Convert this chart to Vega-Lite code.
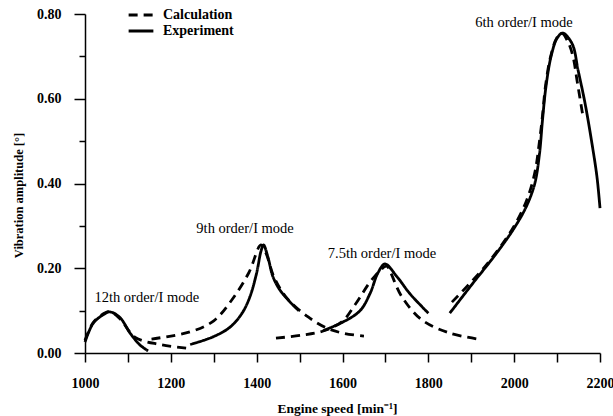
{
  "$schema": "https://vega.github.io/schema/vega-lite/v6.json",
  "autosize": {"type": "none"},
  "width": 515,
  "height": 339,
  "padding": {"left": 85, "top": 14, "right": 13, "bottom": 63},
  "background": "white",
  "config": {
    "view": {"stroke": null},
    "font": "Liberation Serif",
    "axis": {
      "grid": false,
      "domainColor": "black",
      "domainWidth": 1.5,
      "tickColor": "black",
      "tickWidth": 1.5,
      "labelColor": "black",
      "labelFont": "Liberation Serif",
      "labelFontSize": 14,
      "labelFontWeight": "bold",
      "titleFont": "Liberation Serif",
      "titleColor": "black",
      "titleFontWeight": "bold"
    },
    "legend": {
      "labelFont": "Liberation Serif",
      "labelFontSize": 14,
      "labelFontWeight": "bold",
      "labelColor": "black"
    }
  },
  "datasets": {
    "curves": [
      {"series": "Experiment", "seg": "E1", "speed": 1000, "amp": 0.026},
      {"series": "Experiment", "seg": "E1", "speed": 1019, "amp": 0.07},
      {"series": "Experiment", "seg": "E1", "speed": 1042, "amp": 0.09},
      {"series": "Experiment", "seg": "E1", "speed": 1058, "amp": 0.097},
      {"series": "Experiment", "seg": "E1", "speed": 1082, "amp": 0.083},
      {"series": "Experiment", "seg": "E1", "speed": 1105, "amp": 0.047},
      {"series": "Experiment", "seg": "E1", "speed": 1128, "amp": 0.019},
      {"series": "Experiment", "seg": "E1", "speed": 1147, "amp": 0.005},

      {"series": "Calculation", "seg": "C1", "speed": 1000, "amp": 0.03},
      {"series": "Calculation", "seg": "C1", "speed": 1019, "amp": 0.072},
      {"series": "Calculation", "seg": "C1", "speed": 1042, "amp": 0.092},
      {"series": "Calculation", "seg": "C1", "speed": 1058, "amp": 0.098},
      {"series": "Calculation", "seg": "C1", "speed": 1082, "amp": 0.08},
      {"series": "Calculation", "seg": "C1", "speed": 1117, "amp": 0.037},
      {"series": "Calculation", "seg": "C1", "speed": 1175, "amp": 0.02},
      {"series": "Calculation", "seg": "C1", "speed": 1248, "amp": 0.01},

      {"series": "Experiment", "seg": "E2", "speed": 1245, "amp": 0.02},
      {"series": "Experiment", "seg": "E2", "speed": 1298, "amp": 0.038},
      {"series": "Experiment", "seg": "E2", "speed": 1338, "amp": 0.061},
      {"series": "Experiment", "seg": "E2", "speed": 1366, "amp": 0.094},
      {"series": "Experiment", "seg": "E2", "speed": 1384, "amp": 0.132},
      {"series": "Experiment", "seg": "E2", "speed": 1400, "amp": 0.189},
      {"series": "Experiment", "seg": "E2", "speed": 1410, "amp": 0.24},
      {"series": "Experiment", "seg": "E2", "speed": 1416, "amp": 0.255},
      {"series": "Experiment", "seg": "E2", "speed": 1426, "amp": 0.227},
      {"series": "Experiment", "seg": "E2", "speed": 1438, "amp": 0.18},
      {"series": "Experiment", "seg": "E2", "speed": 1454, "amp": 0.149},
      {"series": "Experiment", "seg": "E2", "speed": 1478, "amp": 0.12},
      {"series": "Experiment", "seg": "E2", "speed": 1498, "amp": 0.1},

      {"series": "Calculation", "seg": "C2", "speed": 1155, "amp": 0.033},
      {"series": "Calculation", "seg": "C2", "speed": 1245, "amp": 0.05},
      {"series": "Calculation", "seg": "C2", "speed": 1300, "amp": 0.076},
      {"series": "Calculation", "seg": "C2", "speed": 1342, "amp": 0.125},
      {"series": "Calculation", "seg": "C2", "speed": 1382, "amp": 0.19},
      {"series": "Calculation", "seg": "C2", "speed": 1410, "amp": 0.255},
      {"series": "Calculation", "seg": "C2", "speed": 1422, "amp": 0.235},
      {"series": "Calculation", "seg": "C2", "speed": 1440, "amp": 0.18},
      {"series": "Calculation", "seg": "C2", "speed": 1470, "amp": 0.13},
      {"series": "Calculation", "seg": "C2", "speed": 1520, "amp": 0.085},
      {"series": "Calculation", "seg": "C2", "speed": 1565, "amp": 0.058},
      {"series": "Calculation", "seg": "C2", "speed": 1605, "amp": 0.046},
      {"series": "Calculation", "seg": "C2", "speed": 1650, "amp": 0.04},

      {"series": "Experiment", "seg": "E3", "speed": 1555, "amp": 0.053},
      {"series": "Experiment", "seg": "E3", "speed": 1601, "amp": 0.073},
      {"series": "Experiment", "seg": "E3", "speed": 1641, "amp": 0.1},
      {"series": "Experiment", "seg": "E3", "speed": 1664, "amp": 0.14},
      {"series": "Experiment", "seg": "E3", "speed": 1683, "amp": 0.19},
      {"series": "Experiment", "seg": "E3", "speed": 1699, "amp": 0.21},
      {"series": "Experiment", "seg": "E3", "speed": 1727, "amp": 0.18},
      {"series": "Experiment", "seg": "E3", "speed": 1757, "amp": 0.14},
      {"series": "Experiment", "seg": "E3", "speed": 1800, "amp": 0.094},

      {"series": "Calculation", "seg": "C3", "speed": 1445, "amp": 0.035},
      {"series": "Calculation", "seg": "C3", "speed": 1505, "amp": 0.042},
      {"series": "Calculation", "seg": "C3", "speed": 1555, "amp": 0.052},
      {"series": "Calculation", "seg": "C3", "speed": 1600, "amp": 0.075},
      {"series": "Calculation", "seg": "C3", "speed": 1630, "amp": 0.115},
      {"series": "Calculation", "seg": "C3", "speed": 1670, "amp": 0.175},
      {"series": "Calculation", "seg": "C3", "speed": 1703, "amp": 0.205},
      {"series": "Calculation", "seg": "C3", "speed": 1712, "amp": 0.19},
      {"series": "Calculation", "seg": "C3", "speed": 1737, "amp": 0.135},
      {"series": "Calculation", "seg": "C3", "speed": 1785, "amp": 0.078},
      {"series": "Calculation", "seg": "C3", "speed": 1850, "amp": 0.047},
      {"series": "Calculation", "seg": "C3", "speed": 1915, "amp": 0.033},

      {"series": "Experiment", "seg": "E4", "speed": 1850, "amp": 0.094},
      {"series": "Experiment", "seg": "E4", "speed": 1904, "amp": 0.165},
      {"series": "Experiment", "seg": "E4", "speed": 1951, "amp": 0.225},
      {"series": "Experiment", "seg": "E4", "speed": 1997, "amp": 0.29},
      {"series": "Experiment", "seg": "E4", "speed": 2028, "amp": 0.345},
      {"series": "Experiment", "seg": "E4", "speed": 2048, "amp": 0.4},
      {"series": "Experiment", "seg": "E4", "speed": 2059, "amp": 0.47},
      {"series": "Experiment", "seg": "E4", "speed": 2066, "amp": 0.55},
      {"series": "Experiment", "seg": "E4", "speed": 2074, "amp": 0.628},
      {"series": "Experiment", "seg": "E4", "speed": 2086, "amp": 0.7},
      {"series": "Experiment", "seg": "E4", "speed": 2100, "amp": 0.743},
      {"series": "Experiment", "seg": "E4", "speed": 2113, "amp": 0.755},
      {"series": "Experiment", "seg": "E4", "speed": 2135, "amp": 0.73},
      {"series": "Experiment", "seg": "E4", "speed": 2149, "amp": 0.667},
      {"series": "Experiment", "seg": "E4", "speed": 2165, "amp": 0.59},
      {"series": "Experiment", "seg": "E4", "speed": 2181, "amp": 0.496},
      {"series": "Experiment", "seg": "E4", "speed": 2193, "amp": 0.415},
      {"series": "Experiment", "seg": "E4", "speed": 2200, "amp": 0.342},

      {"series": "Calculation", "seg": "C4", "speed": 1855, "amp": 0.12},
      {"series": "Calculation", "seg": "C4", "speed": 1920, "amp": 0.19},
      {"series": "Calculation", "seg": "C4", "speed": 1960, "amp": 0.24},
      {"series": "Calculation", "seg": "C4", "speed": 2000, "amp": 0.3},
      {"series": "Calculation", "seg": "C4", "speed": 2029, "amp": 0.36},
      {"series": "Calculation", "seg": "C4", "speed": 2048, "amp": 0.425},
      {"series": "Calculation", "seg": "C4", "speed": 2059, "amp": 0.5},
      {"series": "Calculation", "seg": "C4", "speed": 2066, "amp": 0.56},
      {"series": "Calculation", "seg": "C4", "speed": 2073, "amp": 0.63},
      {"series": "Calculation", "seg": "C4", "speed": 2085, "amp": 0.7},
      {"series": "Calculation", "seg": "C4", "speed": 2099, "amp": 0.743},
      {"series": "Calculation", "seg": "C4", "speed": 2111, "amp": 0.755},
      {"series": "Calculation", "seg": "C4", "speed": 2125, "amp": 0.735},
      {"series": "Calculation", "seg": "C4", "speed": 2137, "amp": 0.7},
      {"series": "Calculation", "seg": "C4", "speed": 2147, "amp": 0.64},
      {"series": "Calculation", "seg": "C4", "speed": 2160, "amp": 0.56}
    ],
    "labels": [
      {"speed": 1144, "amp": 0.13, "text": "12th order/I mode"},
      {"speed": 1373, "amp": 0.293, "text": "9th order/I mode"},
      {"speed": 1692, "amp": 0.234, "text": "7.5th order/I mode"},
      {"speed": 2023, "amp": 0.779, "text": "6th order/I mode"}
    ]
  },
  "layer": [
    {
      "data": {"name": "curves"},
      "mark": {"type": "line", "color": "black", "strokeWidth": 2.8, "interpolate": "catmull-rom"},
      "encoding": {
        "x": {
          "field": "speed", "type": "quantitative",
          "scale": {"domain": [1000, 2200], "nice": false, "zero": false},
          "axis": {
            "title": "Engine speed [min⁻¹]",
            "titleFont": "Liberation Serif",
            "titleFontSize": 13.5,
            "titleFontWeight": "bold",
            "titleX": 252,
            "titleY": 55,
            "titleAlign": "center",
            "titleBaseline": "middle",
            "values": [1000, 1100, 1200, 1300, 1400, 1500, 1600, 1700, 1800, 1900, 2000, 2100, 2200],
            "labelExpr": "datum.value % 200 == 0 ? format(datum.value, 'd') : ''",
            "tickSize": 9,
            "labelPadding": 14,
            "labelFlush": false,
            "encode": {"labels": {"update": {"font": {"value": "Liberation Serif"}, "fontWeight": {"value": "bold"}}}}
          }
        },
        "y": {
          "field": "amp", "type": "quantitative",
          "scale": {"domain": [0, 0.8], "nice": false},
          "axis": {
            "title": "Vibration amplitude [°]",
            "titleFont": "Liberation Serif",
            "titleFontSize": 12.5,
            "titleFontWeight": "bold",
            "titleX": -67,
            "titleY": 181,
            "titleAngle": -90,
            "titleAlign": "center",
            "titleBaseline": "middle",
            "values": [0, 0.1, 0.2, 0.3, 0.4, 0.5, 0.6, 0.7, 0.8],
            "labelExpr": "round(datum.value * 10) % 2 == 0 ? format(datum.value, '.2f') : ''",
            "tickSize": {"condition": {"test": "round(datum.value * 10) % 2 == 0", "value": 11}, "value": 6},
            "labelPadding": 13,
            "labelFlush": false,
            "encode": {"labels": {"update": {"font": {"value": "Liberation Serif"}, "fontWeight": {"value": "bold"}}}}
          }
        },
        "detail": {"field": "seg"},
        "strokeDash": {
          "field": "series", "type": "nominal",
          "scale": {"domain": ["Calculation", "Experiment"], "range": [[9, 6], [1, 0]]},
          "legend": {
            "title": null,
            "orient": "none",
            "legendX": 47,
            "legendY": -8,
            "symbolType": "M-1.65,0H1.65",
            "symbolStrokeColor": "black",
            "symbolStrokeWidth": 3,
            "symbolSize": 225,
            "rowPadding": 0,
            "labelOffset": 13,
            "encode": {"labels": {"update": {"font": {"value": "Liberation Serif"}, "fontWeight": {"value": "bold"}}}}
          }
        }
      }
    },
    {
      "data": {"name": "labels"},
      "mark": {"type": "text", "font": "Liberation Serif", "fontSize": 14.5, "color": "black", "baseline": "middle", "align": "center"},
      "encoding": {
        "x": {"field": "speed", "type": "quantitative"},
        "y": {"field": "amp", "type": "quantitative"},
        "text": {"field": "text"}
      }
    }
  ]
}
